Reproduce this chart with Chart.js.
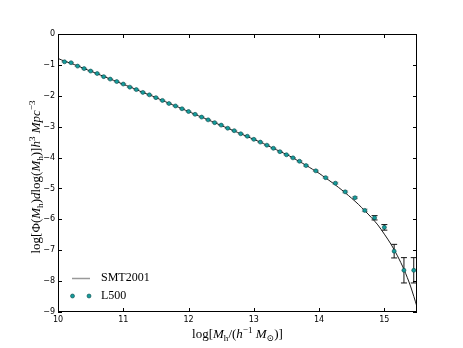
<!DOCTYPE html>
<html>
<head>
<meta charset="utf-8">
<script src="https://cdn.jsdelivr.net/npm/chart.js@4.4.1/dist/chart.umd.min.js"></script>
<style>
  body { margin: 0; background: #fff; }
  #wrap { width: 463px; height: 348px; position: relative; }
</style>
</head>
<body>
<div id="wrap"><canvas id="grafico"></canvas></div>
<script>
// Curva SMT2001
const smtMass = [10.0, 10.1, 10.2, 10.3, 10.4, 10.5, 10.6, 10.7, 10.8, 10.9,
    11.0, 11.1, 11.2, 11.3, 11.4, 11.5, 11.6, 11.7, 11.8, 11.9,
    12.0, 12.1, 12.2, 12.3, 12.4, 12.5, 12.6, 12.7, 12.8, 12.9,
    13.0, 13.1, 13.2, 13.3, 13.4, 13.5, 13.6, 13.7, 13.8, 13.9,
    14.0, 14.1, 14.2, 14.3, 14.4, 14.5, 14.6, 14.7, 14.8, 14.9,
    15.0, 15.1, 15.2, 15.3, 15.4, 15.5];
const smtPhi = [-0.79, -0.88, -0.95, -1.03, -1.12, -1.20, -1.29, -1.37, -1.46, -1.54,
    -1.63, -1.71, -1.80, -1.89, -1.97, -2.06, -2.15, -2.24, -2.33, -2.42,
    -2.51, -2.60, -2.69, -2.78, -2.87, -2.96, -3.05, -3.14, -3.23, -3.32,
    -3.41, -3.50, -3.60, -3.70, -3.80, -3.90, -4.01, -4.13, -4.25, -4.38,
    -4.51, -4.66, -4.81, -4.97, -5.14, -5.32, -5.51, -5.72, -5.94, -6.18,
    -6.48, -6.80, -7.18, -7.62, -8.16, -8.83];

// Puntos L500
const l500Mass = [10.1, 10.2, 10.3, 10.4, 10.5, 10.6, 10.7, 10.8, 10.9,
    11.0, 11.1, 11.2, 11.3, 11.4, 11.5, 11.6, 11.7, 11.8, 11.9,
    12.0, 12.1, 12.2, 12.3, 12.4, 12.5, 12.6, 12.7, 12.8, 12.9,
    13.0, 13.1, 13.2, 13.3, 13.4, 13.5, 13.6, 13.7, 13.8,
    13.95, 14.1, 14.25, 14.4, 14.55, 14.7, 14.85, 15.0, 15.15, 15.3, 15.45];
const l500Phi = [-0.90, -0.93, -1.04, -1.12, -1.20, -1.28, -1.38, -1.46, -1.54,
    -1.62, -1.72, -1.80, -1.89, -1.97, -2.06, -2.15, -2.25, -2.33, -2.42,
    -2.51, -2.60, -2.69, -2.78, -2.87, -2.95, -3.05, -3.13, -3.23, -3.31,
    -3.41, -3.50, -3.60, -3.70, -3.81, -3.91, -4.01, -4.12, -4.26,
    -4.43, -4.65, -4.83, -5.11, -5.30, -5.71, -5.95, -6.26, -7.03, -7.65, -7.65];
const l500Err = [0.01, 0.01, 0.01, 0.01, 0.01, 0.01, 0.01, 0.01, 0.01,
    0.01, 0.01, 0.01, 0.01, 0.01, 0.01, 0.01, 0.01, 0.01, 0.01,
    0.01, 0.01, 0.01, 0.01, 0.01, 0.01, 0.01, 0.01, 0.01, 0.01,
    0.01, 0.01, 0.01, 0.01, 0.01, 0.01, 0.01, 0.02, 0.02,
    0.02, 0.02, 0.03, 0.03, 0.03, 0.04, 0.07, 0.09, 0.22, 0.41, 0.41];

const xTicks = [10, 11, 12, 13, 14, 15];
const yTicks = [0, -1, -2, -3, -4, -5, -6, -7, -8, -9];

const markerFill = '#159c9c';
const markerEdge = '#0c4848';

// Texto con subíndices / superíndices: [texto, cursiva, desplazamiento]
const xLabel = [['log[', 0, 0], ['M', 1, 0], ['h', 0, 1], ['/(', 0, 0], ['h', 1, 0],
    ['\u22121', 0, -1], [' ', 0, 0], ['M', 1, 0], ['\u2299', 0, 1], [')]', 0, 0]];
const yLabel = [['log[\u03A6(', 0, 0], ['M', 1, 0], ['h', 0, 1], [')', 0, 0], ['d', 1, 0],
    ['log(', 0, 0], ['M', 1, 0], ['h', 0, 1], [')]', 0, 0], ['h', 1, 0], ['3', 0, -1],
    [' ', 0, 0], ['Mpc', 1, 0], ['\u22123', 0, -1]];

function partFont(p, size) {
    const s = p[2] !== 0 ? size * 0.7 : size;
    return (p[1] ? 'italic ' : '') + s + 'px "Liberation Serif", "DejaVu Serif", serif';
}

function drawRich(ctx, parts, size) {
    let total = 0;
    parts.forEach(p => { ctx.font = partFont(p, size); total += ctx.measureText(p[0]).width; });
    let x = -total / 2;
    ctx.textAlign = 'left';
    ctx.textBaseline = 'alphabetic';
    parts.forEach(p => {
        ctx.font = partFont(p, size);
        const dy = p[2] === -1 ? -size * 0.4 : (p[2] === 1 ? size * 0.22 : 0);
        ctx.fillText(p[0], x, dy);
        x += ctx.measureText(p[0]).width;
    });
}

const errorBars = {
    id: 'errorBars',
    beforeDatasetsDraw(chart) {
        const ctx = chart.ctx;
        const xs = chart.scales.x, ys = chart.scales.y;
        ctx.save();
        ctx.lineWidth = 1;
        l500Mass.forEach((m, i) => {
            const px = xs.getPixelForValue(m);
            const top = ys.getPixelForValue(l500Phi[i] + l500Err[i]);
            const bot = ys.getPixelForValue(l500Phi[i] - l500Err[i]);
            // las barras diminutas se ven grises en el original
            ctx.strokeStyle = l500Err[i] < 0.05 ? '#aaa' : '#111';
            ctx.beginPath();
            ctx.moveTo(px, top); ctx.lineTo(px, bot);
            ctx.moveTo(px - 3, top); ctx.lineTo(px + 3, top);
            ctx.moveTo(px - 3, bot); ctx.lineTo(px + 3, bot);
            ctx.stroke();
        });
        ctx.restore();
    }
};

const frameAndText = {
    id: 'frameAndText',
    afterDraw(chart) {
        const ctx = chart.ctx;
        const a = chart.chartArea;
        const xs = chart.scales.x, ys = chart.scales.y;
        ctx.save();
        ctx.strokeStyle = '#000';
        ctx.lineWidth = 1;
        ctx.strokeRect(Math.round(a.left) + 0.5, Math.round(a.top) + 0.5,
            Math.round(a.right - a.left) - 1, Math.round(a.bottom - a.top) - 1);
        ctx.beginPath();
        xTicks.forEach(v => {
            const px = Math.round(xs.getPixelForValue(v)) + 0.5;
            ctx.moveTo(px, a.bottom); ctx.lineTo(px, a.bottom - 4);
            ctx.moveTo(px, a.top); ctx.lineTo(px, a.top + 4);
        });
        yTicks.forEach(v => {
            const py = Math.round(ys.getPixelForValue(v)) + 0.5;
            ctx.moveTo(a.left, py); ctx.lineTo(a.left + 4, py);
            ctx.moveTo(a.right, py); ctx.lineTo(a.right - 4, py);
        });
        ctx.stroke();

        // Leyenda
        ctx.strokeStyle = '#999';
        ctx.lineWidth = 1.5;
        ctx.beginPath();
        ctx.moveTo(72, 278.5); ctx.lineTo(90, 278.5);
        ctx.stroke();
        [72.5, 89].forEach(mx => {
            ctx.beginPath();
            ctx.arc(mx, 296, 2, 0, Math.PI * 2);
            ctx.fillStyle = markerFill;
            ctx.fill();
            ctx.lineWidth = 0.6;
            ctx.strokeStyle = markerEdge;
            ctx.stroke();
        });
        ctx.fillStyle = '#000';
        ctx.font = '12px "Liberation Serif", "DejaVu Serif", serif';
        ctx.textAlign = 'left';
        ctx.textBaseline = 'middle';
        ctx.fillText('SMT2001', 101, 277.5);
        ctx.fillText('L500', 101, 296);

        // Títulos de los ejes
        ctx.save();
        ctx.translate((a.left + a.right) / 2, 338);
        drawRich(ctx, xLabel, 13);
        ctx.restore();
        ctx.save();
        ctx.translate(40, (a.top + a.bottom) / 2 + 4);
        ctx.rotate(-Math.PI / 2);
        drawRich(ctx, yLabel, 13);
        ctx.restore();
        ctx.restore();
    }
};

const tickFont = { family: '"DejaVu Sans", sans-serif', size: 8 };
const minus = v => String(v).replace('-', '\u2212');

const config = {
    type: 'scatter',
    data: {
        datasets: [{
            label: 'L500',
            data: l500Mass.map((m, i) => ({ x: m, y: l500Phi[i] })),
            pointRadius: 2,
            pointBackgroundColor: markerFill,
            pointBorderColor: markerEdge,
            pointBorderWidth: 0.6,
            order: 0
        }, {
            label: 'SMT2001',
            data: smtMass.map((m, i) => ({ x: m, y: smtPhi[i] })),
            showLine: true,
            borderColor: '#1a1a1a',
            borderWidth: 1,
            pointRadius: 0,
            tension: 0.3,
            order: 1
        }]
    },
    options: {
        responsive: true,
        maintainAspectRatio: false,
        animation: false,
        layout: { padding: { top: 34, right: 46, left: 0, bottom: 0 } },
        plugins: {
            legend: { display: false },
            tooltip: { enabled: false }
        },
        scales: {
            x: {
                type: 'linear',
                min: 10, max: 15.5,
                grid: { display: false, drawTicks: false },
                border: { display: false },
                afterBuildTicks: s => { s.ticks = xTicks.map(v => ({ value: v })); },
                afterFit: s => { s.height = 36; },
                ticks: { color: '#000', font: tickFont, padding: 3, maxRotation: 0, callback: minus }
            },
            y: {
                type: 'linear',
                min: -9, max: 0,
                grid: { display: false, drawTicks: false },
                border: { display: false },
                afterBuildTicks: s => { s.ticks = yTicks.map(v => ({ value: v })); },
                afterFit: s => { s.width = 58; },
                ticks: { color: '#000', font: tickFont, padding: 3, callback: minus }
            }
        }
    },
    plugins: [errorBars, frameAndText]
};

new Chart(document.getElementById('grafico'), config);
</script>
</body>
</html>
